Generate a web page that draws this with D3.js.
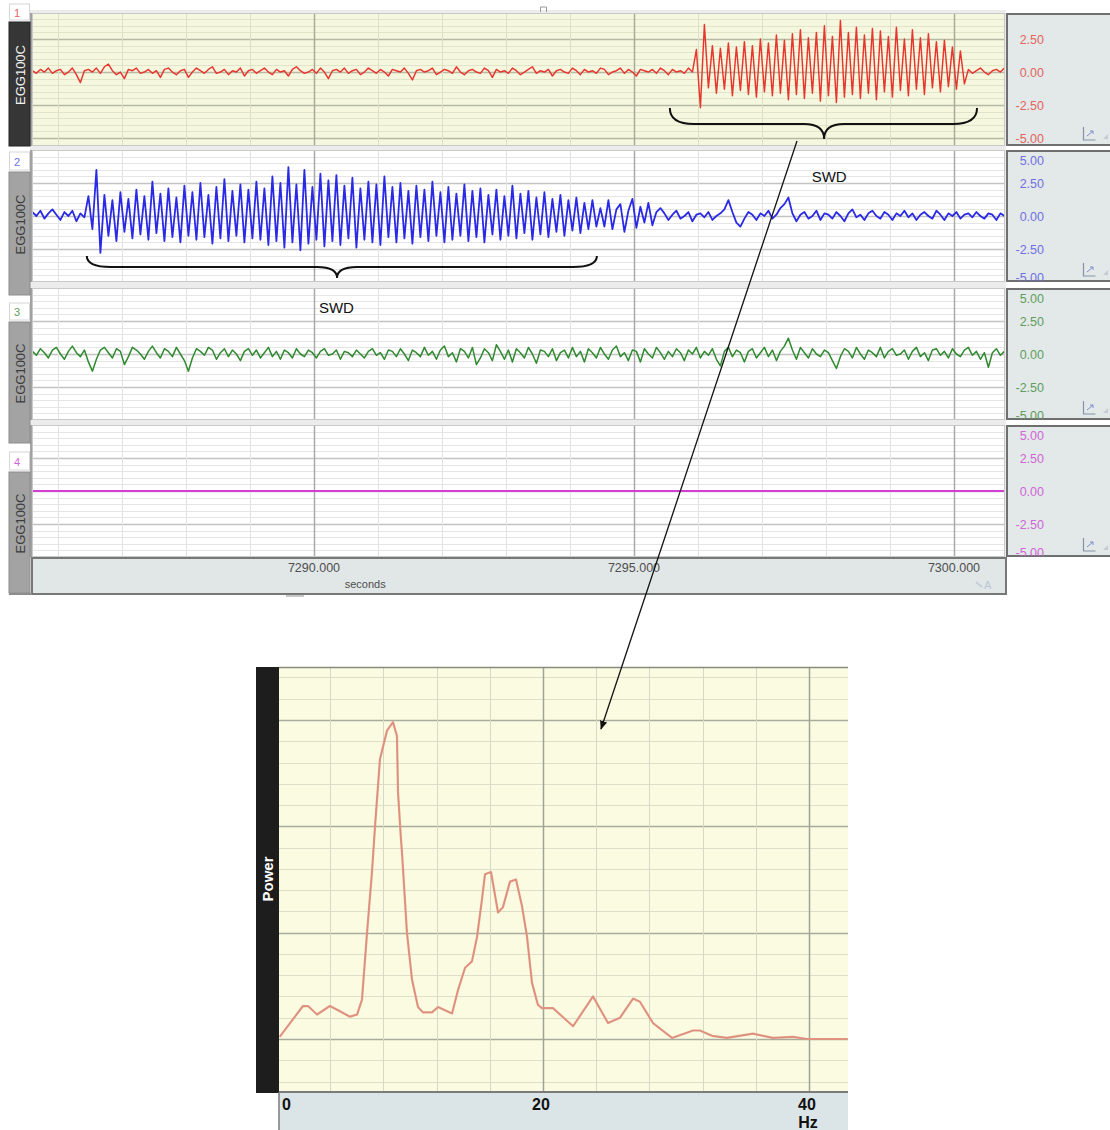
<!DOCTYPE html>
<html><head><meta charset="utf-8">
<script src="https://cdn.jsdelivr.net/npm/d3@7/dist/d3.min.js"></script>
<style>body{margin:0;background:#fff}svg{display:block}text{font-family:"Liberation Sans",Arial,sans-serif}</style>
</head><body><svg id="c" width="1110" height="1130"></svg>
<script>
// ---------------- DATA ----------------
const channelNames = ["EGG100C", "EGG100C", "EGG100C", "EGG100C"];
const channelNumbers = ["1", "2", "3", "4"];
const ampTicks = [5, 2.5, 0, -2.5, -5];
const ampTickLabels = ["5.00", "2.50", "0.00", "-2.50", "-5.00"];
const timeTicks = [7290, 7295, 7300];
const timeTickLabels = ["7290.000", "7295.000", "7300.000"];
const timeUnit = "seconds";
const timeStart = 7285.6;
const sampleStep = 0.0625;

const ch1Values = [
0.1,-0.1,0.2,0.0,0.3,-0.1,0.1,0.2,-0.2,0.0,
0.3,-0.2,-0.8,0.1,0.2,0.0,0.3,-0.1,0.4,0.6,
0.1,-0.2,0.0,-0.5,0.2,0.1,0.3,-0.1,0.0,0.2,
-0.1,0.1,-0.4,0.2,0.3,0.0,-0.2,0.1,0.2,-0.4,
0.0,0.3,0.1,-0.1,0.2,0.4,-0.1,0.0,0.2,-0.2,
0.1,0.0,0.3,-0.3,0.1,0.2,-0.1,0.1,0.3,0.0,
-0.2,0.2,0.0,0.1,-0.3,0.2,0.4,0.1,-0.1,0.0,
0.2,-0.1,0.3,0.0,-0.5,0.1,0.2,0.0,0.3,-0.1,
0.1,0.2,-0.2,0.0,0.3,0.1,-0.1,0.2,0.0,-0.3,
0.2,0.1,0.0,0.3,-0.1,-0.6,0.1,0.2,0.0,0.1,
0.3,-0.2,0.0,0.2,0.1,-0.1,0.4,0.0,-0.2,0.1,
0.2,0.0,-0.1,0.3,0.1,-0.4,0.2,0.0,0.1,-0.1,
0.3,0.1,-0.2,0.0,0.2,0.4,-0.1,0.1,0.0,0.2,
-0.3,0.1,0.2,0.0,-0.1,0.3,0.1,-0.2,0.2,0.0,
0.1,-0.1,0.3,0.2,-0.2,0.0,0.1,0.3,-0.1,0.2,
0.0,-0.3,0.2,0.1,0.0,0.2,-0.1,0.3,0.1,-0.2,
0.2,0.0,0.1,-0.1,0.3,0.0,
1.7,-2.7,3.6,-1.2,2.0,-1.6,1.8,-1.3,2.2,-1.8,
1.9,-1.4,2.3,-1.7,2.0,-1.9,2.5,-1.5,2.2,-1.8,
2.8,-1.6,2.4,-2.1,2.9,-1.7,3.2,-2.0,2.6,-1.6,
3.0,-2.2,3.5,-1.8,2.7,-2.3,3.9,-1.9,3.0,-1.7,
3.4,-2.0,2.8,-1.6,3.3,-2.1,3.1,-1.5,2.7,-1.9,
3.4,-1.4,2.5,-1.8,3.2,-1.3,2.6,-1.7,2.9,-1.2,
2.3,-1.5,2.4,-1.1,1.9,-1.3,1.6,-0.9,
0.2,-0.1,0.1,0.3,0.0,-0.2,0.1,0.2,0.0,0.3
];

const ch2Values = [
0.3,0.0,0.4,-0.2,0.2,0.5,0.1,-0.3,0.3,0.0,0.4,-0.4,0.2,-0.1,
1.5,-1.0,3.5,-2.8,1.6,-1.5,1.2,-1.9,1.8,-1.2,1.3,-1.7,2.0,-1.4,1.5,-1.8,
2.6,-1.3,1.7,-1.9,2.1,-1.6,1.4,-2.0,2.3,-1.5,1.8,-1.8,2.5,-1.6,1.6,-2.1,
2.2,-1.7,2.8,-1.9,1.9,-1.5,2.4,-2.0,2.0,-1.7,2.6,-1.8,2.1,-2.2,3.0,-1.9,
2.5,-2.4,3.7,-2.0,2.4,-2.6,3.5,-2.1,2.2,-1.8,3.2,-2.3,2.7,-1.9,3.1,-2.2,
2.3,-1.7,2.9,-2.4,2.1,-1.8,2.6,-2.0,2.4,-2.2,3.0,-1.6,2.2,-2.0,2.5,-1.7,
1.9,-2.1,2.3,-1.6,2.0,-1.9,2.6,-1.5,1.8,-2.0,2.2,-1.8,1.7,-1.5,2.4,-1.9,
1.9,-1.6,2.1,-2.0,1.6,-1.4,2.0,-1.8,1.5,-1.5,2.3,-1.7,1.7,-1.3,1.9,-1.8,
1.4,-1.4,1.8,-1.6,1.3,-1.2,1.6,-1.5,1.2,-1.1,1.4,-1.3,1.0,-1.0,1.2,-0.8,
0.6,-0.8,1.2,-1.0,0.5,0.9,-1.2,0.4,1.3,-0.9,0.7,-0.5,1.0,-0.7,0.3,0.6,
0.2,-0.3,0.1,0.4,-0.2,0.0,0.3,-0.4,0.1,0.2,
-0.1,0.3,-0.3,0.0,0.2,0.5,1.2,0.3,-0.5,-0.8,
-0.2,0.3,0.1,-0.3,0.2,0.0,0.4,-0.2,0.1,0.6,
0.9,1.4,0.2,-0.4,0.1,0.3,-0.2,0.0,0.4,-0.3,
0.2,0.1,-0.2,0.3,0.0,-0.4,0.2,0.5,-0.1,0.1,
-0.3,0.2,0.4,0.0,-0.2,0.3,0.1,-0.3,0.2,0.0,
0.4,-0.1,0.2,-0.3,0.1,0.3,0.0,-0.2,0.4,0.1,
-0.3,0.2,0.0,0.3,-0.2,0.1,0.2,-0.1,0.3,0.0,
-0.2,0.2,0.1,-0.3,0.2,0.0
];

const ch3Values = [
0.2,-0.1,0.4,0.1,-0.3,0.3,0.5,0.0,-0.4,0.2,
0.6,0.1,-0.2,0.3,-0.6,-1.3,-0.4,0.3,0.5,0.1,
-0.3,0.4,0.2,-0.8,-0.2,0.5,0.3,0.0,-0.4,0.2,
0.6,0.1,-0.3,0.4,0.2,-0.2,0.5,0.0,-0.5,-1.3,
-0.3,0.4,0.2,-0.1,0.5,0.3,-0.4,0.1,0.4,-0.2,
0.3,0.0,-0.5,0.2,0.4,-0.1,0.3,-0.3,0.1,0.5,
-0.2,0.2,-0.4,0.3,0.1,-0.3,0.4,0.0,-0.2,0.3,
0.1,-0.3,0.2,0.4,-0.1,0.0,0.3,-0.4,0.2,0.1,
-0.2,0.3,0.0,-0.3,0.2,0.4,-0.1,0.1,-0.4,0.3,
0.2,-0.2,0.4,0.0,-0.5,0.3,0.1,-0.2,0.5,-0.1,
0.2,-0.4,0.3,0.6,-0.2,0.1,-0.6,0.4,0.2,-0.3,
0.5,-0.8,-0.3,0.4,0.1,-0.5,0.7,0.2,-0.4,0.3,
-0.6,0.4,0.1,-0.3,0.5,0.0,-0.7,0.3,0.2,-0.2,
0.4,-0.5,0.1,0.3,-0.3,0.5,-0.2,0.2,-0.6,0.4,
0.1,-0.3,0.5,0.0,-0.4,0.3,0.6,-0.2,0.1,-0.5,
0.3,0.2,-0.6,0.4,0.0,-0.3,0.5,0.1,-0.4,0.2,
-0.2,0.4,0.1,-0.5,0.3,0.0,0.5,-0.3,0.2,-0.1,
0.4,-0.4,-0.9,0.2,0.5,-0.2,0.3,0.1,-0.6,0.2,
0.4,-0.3,0.1,0.5,-0.2,0.3,-0.5,0.2,0.6,1.2,
0.3,-0.4,0.5,0.1,-0.3,0.4,0.0,-0.2,0.3,0.1,
-0.5,-1.1,-0.2,0.4,0.2,-0.3,0.5,0.0,-0.4,0.3,
0.1,-0.2,0.5,-0.3,0.2,0.4,-0.1,0.0,0.3,-0.4,
0.2,0.5,-0.2,0.1,-0.5,0.3,0.4,-0.1,0.2,-0.3,
0.4,0.0,-0.2,0.3,0.5,-0.1,0.2,-0.4,0.1,-1.0,
0.1,0.4,-0.1,0.2
];

const ch4Times = [7285.6, 7300.8];
const ch4Values = [0, 0];

const freqHz = [0.2,1.95,2.33,3.01,3.98,4.59,5.49,6.02,6.39,6.77,7.14,7.37,7.74,8.27,8.72,9.02,9.10,9.32,9.40,9.77,10.15,10.60,10.98,11.65,12.11,12.63,13.16,13.61,14.14,14.66,15.04,15.41,15.64,16.09,16.62,16.99,17.52,17.97,18.42,18.80,19.17,19.62,19.92,20.75,22.26,23.76,24.89,25.79,26.77,27.29,28.27,29.70,31.28,31.80,32.71,33.83,35.79,37.29,38.80,39.85,42.9];
const powerValues = [0.02,0.31,0.31,0.23,0.31,0.27,0.21,0.23,0.37,1.00,1.57,2.00,2.63,2.90,2.98,2.85,2.32,1.88,1.75,1.00,0.56,0.30,0.25,0.25,0.30,0.27,0.24,0.46,0.67,0.73,0.96,1.31,1.55,1.57,1.19,1.24,1.48,1.50,1.25,0.96,0.53,0.32,0.29,0.29,0.12,0.40,0.15,0.20,0.38,0.35,0.15,0.01,0.08,0.08,0.03,0.01,0.05,0.01,0.02,0.0,0.0];
const freqTicks = [0, 20, 40];
const freqTickLabels = ["0", "20", "40"];
const freqUnit = "Hz";
const powerLabel = "Power";
const swdLabels = ["SWD", "SWD"];
const swdStart = [7295.56, 7286.45];
const swdEnd = [7300.36, 7294.42];
const swdMid = [7297.97, 7290.36];

// ---------------- LAYOUT ----------------
const svg = d3.select("#c");
const xT = d3.scaleLinear().domain([7290, 7300]).range([314, 954]);
const PX0 = 32, PX1 = 1005;

const panels = [
  {top: 13, bottom: 146, dom: [-5.6, 4.47], bg: "#f5f7df", hMinor: "#e1e4c9", hMajor: "#b7baa3", vMinor: "#dde0c5", vMajor: "#a8ab97",
   trace: "#e8352d", lab: "#e26560", sw: 1.45, tabTop: 22, tabBottom: 146, numTop: 4, dark: true},
  {top: 150, bottom: 282, dom: [-5, 5], bg: "#ffffff", hMinor: "#e5e5e5", hMajor: "#c3c3c3", vMinor: "#e3e3e3", vMajor: "#a9a9a9",
   trace: "#2a2ae6", lab: "#7070e4", sw: 1.8, tabTop: 172, tabBottom: 295, numTop: 152},
  {top: 288, bottom: 420, dom: [-5, 5], bg: "#ffffff", hMinor: "#e5e5e5", hMajor: "#c3c3c3", vMinor: "#e3e3e3", vMajor: "#a9a9a9",
   trace: "#2f8a2f", lab: "#5e9e5e", sw: 1.5, tabTop: 322, tabBottom: 443, numTop: 303},
  {top: 425, bottom: 557, dom: [-5, 5], bg: "#ffffff", hMinor: "#e5e5e5", hMajor: "#c3c3c3", vMinor: "#e3e3e3", vMajor: "#a9a9a9",
   trace: "#d23fd2", lab: "#d066d8", sw: 2, tabTop: 472, tabBottom: 593, numTop: 452}
];
const series = [
  {t: ch1Values.map((_, i) => timeStart + i * sampleStep), v: ch1Values},
  {t: ch2Values.map((_, i) => timeStart + i * sampleStep), v: ch2Values},
  {t: ch3Values.map((_, i) => timeStart + i * sampleStep), v: ch3Values},
  {t: ch4Times, v: ch4Values}
];

const defs = svg.append("defs");
svg.append("rect").attr("x", 30).attr("y", 10).attr("width", 976).attr("height", 548).attr("fill", "#ececec");

panels.forEach((p, k) => {
  const y = d3.scaleLinear().domain(p.dom).range([p.bottom, p.top]);
  const g = svg.append("g");
  defs.append("clipPath").attr("id", "cp" + k).append("rect")
    .attr("x", PX0).attr("y", p.top).attr("width", PX1 - PX0).attr("height", p.bottom - p.top);
  g.append("rect").attr("x", PX0).attr("y", p.top).attr("width", PX1 - PX0).attr("height", p.bottom - p.top).attr("fill", p.bg);
  const gg = g.append("g").attr("clip-path", "url(#cp" + k + ")");
  d3.range(-6, 6.01, 0.5).forEach(v => {
    if (v <= p.dom[0] || v >= p.dom[1]) return;
    const major = Math.abs(v % 2.5) < 1e-6;
    gg.append("line").attr("x1", PX0).attr("x2", PX1).attr("y1", Math.round(y(v)) + 0.5).attr("y2", Math.round(y(v)) + 0.5)
      .attr("stroke", major ? p.hMajor : p.hMinor).attr("stroke-width", major ? 1.3 : 1);
  });
  d3.range(7286, 7301, 1).forEach(t => {
    const major = t % 5 === 0;
    gg.append("line").attr("y1", p.top).attr("y2", p.bottom).attr("x1", Math.round(xT(t)) + 0.5).attr("x2", Math.round(xT(t)) + 0.5)
      .attr("stroke", major ? p.vMajor : p.vMinor).attr("stroke-width", major ? 1.5 : 1);
  });
  const s = series[k];
  const line = d3.line().x((d, i) => xT(s.t[i])).y(d => y(d));
  gg.append("path").attr("d", line(s.v)).attr("fill", "none").attr("stroke", p.trace)
    .attr("stroke-width", p.sw).attr("stroke-linejoin", "round");
  g.append("rect").attr("x", PX0 + 0.5).attr("y", p.top + 0.5).attr("width", PX1 - PX0 - 1).attr("height", p.bottom - p.top - 1)
    .attr("fill", "none").attr("stroke", "#c9c9c9");
  g.append("line").attr("x1", 31).attr("x2", 31).attr("y1", p.top).attr("y2", p.bottom).attr("stroke", "#8a8a8a").attr("stroke-width", 1.5);

  const rp = svg.append("g");
  rp.append("rect").attr("x", 1007).attr("y", p.top + 1).attr("width", 110).attr("height", p.bottom - p.top - 2)
    .attr("fill", "#e3e8e8").attr("stroke", "#6f6f6f").attr("stroke-width", 2);
  defs.append("clipPath").attr("id", "rc" + k).append("rect").attr("x", 1006).attr("y", p.top).attr("width", 110).attr("height", p.bottom - p.top - 1);
  const lg = rp.append("g").attr("clip-path", "url(#rc" + k + ")");
  ampTicks.forEach((v, j) => {
    if (v > p.dom[1] + 0.01 || v < p.dom[0] - 0.01) return;
    let yy = y(v);
    yy = Math.max(p.top + 10, Math.min(p.bottom - 5, yy));
    lg.append("text").attr("x", 1044).attr("y", yy).attr("dy", "0.36em").attr("text-anchor", "end")
      .attr("font-size", 12.5).attr("fill", p.lab).text(ampTickLabels[j]);
  });
  lg.append("path").attr("d", `M1083.5,${p.bottom - 19} v13 h12`).attr("fill", "none").attr("stroke", "#8593a8").attr("stroke-width", 1.2);
  lg.append("path").attr("d", `M1087,${p.bottom - 10} l6,-5 m-3,0 h3 v3`).attr("fill", "none").attr("stroke", "#7f8fd0").attr("stroke-width", 1);
  lg.append("path").attr("d", `M1103,${p.bottom - 7} l5,-5 v5 z`).attr("fill", "#c5cbd2");

  svg.append("rect").attr("x", 9).attr("y", p.tabTop).attr("width", 21).attr("height", p.tabBottom - p.tabTop)
    .attr("fill", p.dark ? "#363636" : "#a3a3a3").attr("stroke", p.dark ? "#222" : "#8c8c8c");
  svg.append("rect").attr("x", 9.5).attr("y", p.numTop).attr("width", 20).attr("height", p.tabTop - p.numTop - 2)
    .attr("fill", "#ffffff").attr("stroke", "#d6d6d6");
  svg.append("text").attr("x", 17).attr("y", (p.numTop + p.tabTop) / 2).attr("dy", "0.32em").attr("text-anchor", "middle")
    .attr("font-size", 11).attr("fill", p.lab).text(channelNumbers[k]);
  const cy = (p.tabTop + p.tabBottom) / 2 - 9;
  svg.append("text").attr("transform", `translate(24.5,${cy}) rotate(-90)`).attr("text-anchor", "middle")
    .attr("font-size", 13).attr("fill", p.dark ? "#f2f2f2" : "#3c3c3c").text(channelNames[k]);
});

// time axis bar
svg.append("rect").attr("x", 32).attr("y", 558).attr("width", 974).attr("height", 36).attr("fill", "#e1e7e7")
  .attr("stroke", "#777").attr("stroke-width", 2);
timeTicks.forEach((t, j) => {
  svg.append("text").attr("x", xT(t)).attr("y", 572).attr("text-anchor", "middle").attr("font-size", 12.5)
    .attr("fill", "#4e4e4e").text(timeTickLabels[j]);
});
svg.append("text").attr("x", xT(7290.8)).attr("y", 588).attr("text-anchor", "middle").attr("font-size", 11).attr("fill", "#4e4e4e").text(timeUnit);
svg.append("text").attr("x", 984).attr("y", 589).attr("font-size", 11).attr("fill", "#b9c6d6").text("A");
svg.append("path").attr("d", "M976,582 l6,5").attr("stroke", "#c4cfdb").attr("stroke-width", 2);
svg.append("line").attr("x1", 9).attr("x2", 32).attr("y1", 594).attr("y2", 594).attr("stroke", "#8c8c8c").attr("stroke-width", 2);
svg.append("rect").attr("x", 286).attr("y", 595).attr("width", 18).attr("height", 2).attr("fill", "#c8c8c8");
svg.append("path").attr("d", "M540.5,12 v-5 h6 v5").attr("fill", "none").attr("stroke", "#9a9a9a");

// ---------------- POWER SPECTRUM ----------------
const xS = d3.scaleLinear().domain([0, 40]).range([277, 809]);
const yS = d3.scaleLinear().domain([0, 3]).range([1039, 720]);
const SX0 = 279, SX1 = 848, SY0 = 667, SY1 = 1092;
defs.append("clipPath").attr("id", "spc").append("rect").attr("x", SX0).attr("y", SY0).attr("width", SX1 - SX0).attr("height", SY1 - SY0);
const sp = svg.append("g");
sp.append("rect").attr("x", SX0).attr("y", SY0).attr("width", SX1 - SX0).attr("height", SY1 - SY0).attr("fill", "#fafbe1");
const sg = sp.append("g").attr("clip-path", "url(#spc)");
d3.range(-0.4, 3.61, 0.2).forEach(v => {
  const major = Math.abs(v - Math.round(v)) < 1e-6;
  sg.append("line").attr("x1", SX0).attr("x2", SX1).attr("y1", Math.round(yS(v)) + 0.5).attr("y2", Math.round(yS(v)) + 0.5)
    .attr("stroke", major ? "#a9ab9c" : "#dcdfc9").attr("stroke-width", major ? 1.5 : 1);
});
d3.range(0, 44, 4).forEach(f => {
  const major = f % 20 === 0;
  sg.append("line").attr("y1", SY0).attr("y2", SY1).attr("x1", Math.round(xS(f)) + 0.5).attr("x2", Math.round(xS(f)) + 0.5)
    .attr("stroke", major ? "#9fa396" : "#d6dac4").attr("stroke-width", major ? 1.5 : 1);
});
const sLine = d3.line().x((d, i) => xS(freqHz[i])).y(d => yS(d));
sg.append("path").attr("d", sLine(powerValues)).attr("fill", "none").attr("stroke", "#e49a88").attr("stroke-width", 2.2).attr("stroke-linejoin", "round");
sg.append("path").attr("d", sLine(powerValues)).attr("fill", "none").attr("stroke", "#d07e6c").attr("stroke-width", 0.8).attr("opacity", 0.6);
sp.append("line").attr("x1", SX0).attr("x2", SX1).attr("y1", SY0 + 0.5).attr("y2", SY0 + 0.5).attr("stroke", "#8a8a80").attr("stroke-width", 1.5);
sp.append("rect").attr("x", 256).attr("y", SY0).attr("width", 23).attr("height", SY1 - SY0 + 1).attr("fill", "#1d1d1d");
sp.append("text").attr("transform", `translate(273,879) rotate(-90)`).attr("text-anchor", "middle")
  .attr("font-size", 15).attr("font-weight", "bold").attr("fill", "#ffffff").text(powerLabel);
sp.append("rect").attr("x", SX0).attr("y", SY1).attr("width", SX1 - SX0).attr("height", 1130 - SY1 + 2).attr("fill", "#dbe4e6");
sp.append("line").attr("x1", SX0).attr("x2", SX1).attr("y1", SY1).attr("y2", SY1).attr("stroke", "#7b7b7b").attr("stroke-width", 2);
sp.append("line").attr("x1", SX0).attr("x2", SX0).attr("y1", SY1).attr("y2", 1130).attr("stroke", "#7b7b7b").attr("stroke-width", 1.5);
freqTicks.forEach((f, j) => {
  const t = sp.append("text").attr("y", 1110).attr("font-size", 16).attr("font-weight", "bold").attr("fill", "#111").text(freqTickLabels[j]);
  if (f === 0) t.attr("x", xS(f) + 5).attr("text-anchor", "start");
  else t.attr("x", xS(f) - 2).attr("text-anchor", "middle");
});
sp.append("text").attr("x", xS(40) - 1).attr("y", 1128).attr("text-anchor", "middle").attr("font-size", 16)
  .attr("font-weight", "bold").attr("fill", "#111").text(freqUnit);

// ---------------- ANNOTATIONS (on top) ----------------
function brace(x1, x2, xm, yTop, yMid, yTip) {
  const r = 24, rc = 20;
  return `M${x1},${yTop} Q${x1},${yMid} ${x1 + r},${yMid} L${xm - rc},${yMid} Q${xm},${yMid} ${xm},${yTip} Q${xm},${yMid} ${xm + rc},${yMid} L${x2 - r},${yMid} Q${x2},${yMid} ${x2},${yTop}`;
}
svg.append("path").attr("d", brace(xT(swdStart[0]), xT(swdEnd[0]), xT(swdMid[0]), 108, 124, 139))
  .attr("fill", "none").attr("stroke", "#111").attr("stroke-width", 2);
svg.append("path").attr("d", brace(xT(swdStart[1]), xT(swdEnd[1]), xT(swdMid[1]), 256, 267, 278))
  .attr("fill", "none").attr("stroke", "#111").attr("stroke-width", 2);
svg.append("text").attr("x", xT(7298.05)).attr("y", 182).attr("text-anchor", "middle").attr("font-size", 15).attr("fill", "#111").text(swdLabels[0]);
svg.append("text").attr("x", xT(7290.35)).attr("y", 313).attr("text-anchor", "middle").attr("font-size", 15).attr("fill", "#111").text(swdLabels[1]);

defs.append("marker").attr("id", "ah").attr("viewBox", "0 0 10 10").attr("refX", 9).attr("refY", 5)
  .attr("markerWidth", 7).attr("markerHeight", 7).attr("orient", "auto")
  .append("path").attr("d", "M0,1 L10,5 L0,9 z").attr("fill", "#111");
svg.append("line").attr("x1", 797).attr("y1", 141).attr("x2", 601).attr("y2", 729)
  .attr("stroke", "#111").attr("stroke-width", 1.3).attr("marker-end", "url(#ah)");
</script></body></html>
